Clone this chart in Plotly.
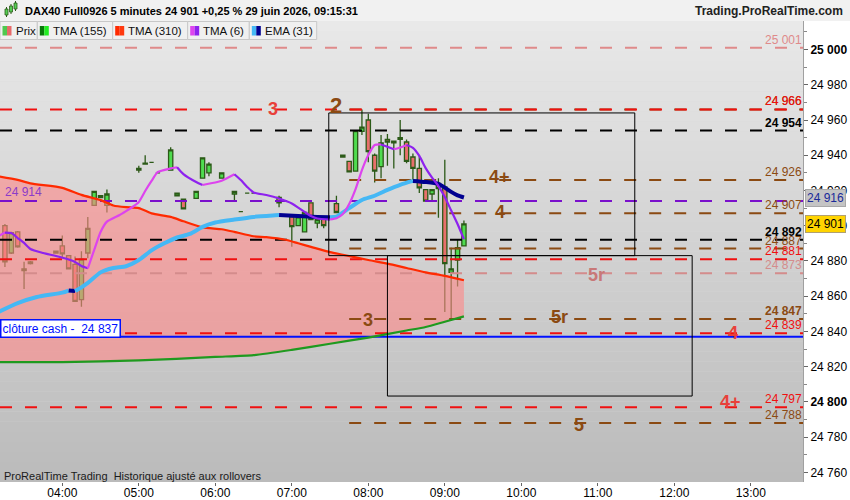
import plotly.graph_objects as go

D = "2026-06-29 "

# ---------------- data ----------------
candle_time = ["03:15","03:20","03:25","03:30","03:35","03:55","04:00","04:05","04:10","04:15","04:20","04:25","04:30","04:35",
               "05:00","05:05","05:10","05:15","05:25","05:30","05:35","05:45","05:50","05:55","06:05","06:15","06:20","06:25","06:30",
               "06:50","07:00","07:05","07:10","07:15","07:20","07:25","07:35","07:40","07:45","07:50","07:55","08:00","08:05","08:10",
               "08:15","08:20","08:25","08:30","08:35","08:40","08:45","08:50","08:55","09:00","09:05","09:10","09:15"]
candle_open = [24900,24884.5,24896.5,24875.5,24878.5,24884.5,24888.5,24883,24878,24858,24884.5,24911.5,24917,24911.5,
               24932.5,24935.5,24936,24930,24931.5,24917,24915,24915.5,24927,24930,24927,24918,24908,24918.5,24918.5,
               24916,24905,24900,24896.5,24913,24901.5,24904,24912.5,24940,24936.5,24931,24953.5,24960,24940,24933.5,
               24949,24947,24949,24947.5,24939,24932.5,24920.5,24918,24924,24922,24873.5,24880.5,24888.5]
candle_high = [24901,24896.5,24897,24879.5,24880,24885.5,24894.5,24883,24882.5,24885.5,24905,24919.5,24917,24920.5,
               24934,24940,24936,24930,24944.5,24918.5,24915,24919.5,24938.5,24936,24930,24919.5,24908,24918.5,24918.5,
               24917,24906,24905,24907.5,24913,24903.5,24904,24917,24940,24936.5,24954,24966,24963.5,24941,24951.5,
               24952,24948,24960,24949,24941,24940,24920.5,24920.5,24927,24937.5,24887.5,24892.5,24903]
candle_low = [24876.5,24884,24887.5,24864,24878,24884.5,24881.5,24875.5,24857,24854,24881.5,24911.5,24916,24907.5,
              24930,24935,24936,24930,24931.5,24917,24909.5,24915.5,24927,24928,24927,24914,24908,24918.5,24918.5,
              24910.5,24888,24900,24896.5,24903.5,24898.5,24898.5,24907.5,24939,24930.5,24931,24951.5,24936,24924.5,24927,
              24934,24932.5,24940,24935.5,24926,24918.5,24914,24914.5,24904.5,24851,24846.5,24865.5,24888.5]
candle_close = [24879.5,24896,24888,24874.5,24879.5,24885.5,24884,24875.5,24857,24881,24898.5,24919.5,24916,24918,
                24931.5,24935,24936,24930,24943,24918.5,24909.5,24919.5,24938.5,24935,24930,24919.5,24908,24918.5,24918.5,
                24913,24899.5,24905,24907.5,24903.5,24903.5,24900,24907.5,24939,24930.5,24954,24956,24942,24931,24947,
                24947.5,24948,24950,24936.5,24932.5,24921.5,24914,24920.5,24921,24878.5,24875.5,24887.5,24901]

tma310_time = ["03:10","03:25","03:35","04:00","04:15","04:30","04:40","04:50","05:00","05:10","05:25","05:35","05:50","06:05",
               "06:15","06:30","06:40","06:55","07:05","07:15","07:30","07:40","08:00","08:15","08:30","08:45","09:00","09:15"]
tma310_val = [24928,24926,24924,24921.5,24917.5,24914.5,24911.5,24910.5,24910,24907,24905,24902.5,24899,24898,
              24896.5,24894,24893.5,24892,24890,24888,24885,24883.5,24880.5,24878.5,24876,24873.5,24871.5,24869]

tma155_time = ["03:10","04:00","05:00","06:00","06:30","07:00","07:30","08:00","08:30","08:45","09:00","09:15"]
tma155_val = [24822.5,24822.6,24823.5,24825.5,24826.5,24829.5,24833,24836.5,24840.5,24842.5,24845.5,24848.5]

ema31_time = ["03:10","03:25","03:40","04:00","04:05","04:10","04:15","04:20","04:30","04:40","04:50","05:00","05:10","05:20",
              "05:30","05:40","05:50","06:00","06:15","06:30","06:45","06:50","07:05","07:20","07:30","07:35","07:45","07:55",
              "08:05","08:15","08:25","08:35","08:45","08:55","09:00","09:05","09:10","09:15"]
ema31_val = [24851,24856,24859.5,24862,24863.2,24862.9,24865,24867.5,24873.5,24876,24877,24880.5,24886,24890,
             24893.3,24895.3,24899.3,24901.8,24903.5,24905,24905.8,24906,24905.5,24905,24904.8,24905.2,24910,24914.6,
             24917,24920.3,24923.2,24925.4,24924.8,24923.7,24921.6,24919.2,24917.2,24916]

tma6_time = ["03:10","03:15","03:20","03:25","03:30","03:35","03:45","03:55","04:05","04:10","04:15","04:20","04:25","04:30",
             "04:35","04:45","04:50","04:55","05:00","05:05","05:10","05:15","05:25","05:30","05:35","05:45","05:50","06:00",
             "06:05","06:15","06:20","06:25","06:30","06:40","06:50","07:00","07:10","07:15","07:20","07:30","07:35","07:40",
             "07:45","07:50","07:55","08:00","08:05","08:10","08:15","08:20","08:25","08:30","08:35","08:40","08:45","08:50",
             "08:55","09:00","09:05","09:10","09:15"]
tma6_val = [24894.2,24896.1,24895.8,24893,24890.2,24886.8,24884.5,24882.8,24880.8,24879.4,24877.1,24875.8,24886.2,24896.4,
            24902.3,24906.1,24908.3,24910.6,24913.5,24919.7,24925.4,24930.5,24932.5,24933.2,24929.3,24924.8,24923.1,24924.5,
            24925.5,24929.2,24925.9,24922,24918.9,24917.4,24915.4,24912.6,24907.8,24905.5,24904.1,24903.5,24904.2,24906.6,
            24912.3,24920.8,24931.6,24940.1,24945.8,24946.1,24944.8,24943.4,24944.4,24945.8,24944.2,24939.6,24932.7,24927.3,
            24922.5,24916.3,24908.6,24901,24892.3]

level_val = [25001, 24966, 24966, 24954, 24926, 24914, 24907, 24892, 24887, 24881, 24873, 24847, 24839, 24797, 24788]
level_color = ["#df8a8a", "#8b4a12", "#f01010", "#000000", "#8b4a12", "#7a10cc", "#8b4a12", "#000000", "#8b4a12",
               "#f01010", "#d48c8c", "#8b4a12", "#f01010", "#f01010", "#8b4a12"]
level_start = [None, "07:45", None, None, "07:45", None, "07:45", None, "07:45", None, None, "07:45", None, None, "07:45"]
level_text = ["25 001", "24 966", "24 966", "24 954", "24 926", None, "24 907", "24 892", "24 887", "24 881", "24 873",
              "24 847", "24 839", "24 797", "24 788"]
level_bold = [False, False, False, True, False, False, False, True, False, False, False, True, False, False, False]

cash_close = 24837
purple_left = 24914

zone_text = ["3", "2", "4+", "4", "5r", "3", "5r", "4", "4+", "5"]
zone_time = ["06:45", "07:35", "09:43", "09:43", "10:59", "08:00", "10:30", "12:46", "12:44", "10:45"]
zone_val = [24966, 24968, 24927.5, 24907.5, 24872, 24846.5, 24848, 24839, 24800, 24787]
zone_color = ["#e8403a", "#8b4a12", "#8b4a12", "#8b4a12", "#c87878", "#8b4a12", "#8b4a12", "#e8403a", "#e8403a", "#8b4a12"]

box_t0 = ["07:29", "08:15"]
box_t1 = ["11:29", "12:14"]
box_lo = [24883, 24803.3]
box_hi = [24964, 24883]

last_price = 24901
ema_last = 24916

y_ticks = list(range(24760, 25001, 20))
x_hours = ["04:00", "05:00", "06:00", "07:00", "08:00", "09:00", "10:00", "11:00", "12:00", "13:00"]

# ---------------- layout geometry ----------------
W, H = 850, 500
ML, MR, MT, MB = 0, 47, 21, 18
PW, PH = W - ML - MR, H - MT - MB
X_START, X_END = D + "03:11:08", D + "13:40:56"
Y_MIN, Y_MAX = 24754.5, 25016.2
FONT = "Arial, Liberation Sans, sans-serif"

def px(xp):
    return (xp - ML) / PW

def py(yp):
    return (H - MB - yp) / PH

def T(lst):
    return [D + t for t in lst]

fig = go.Figure()

# background gradient
shapes = []
N = 46
for i in range(N):
    c = int(233 - (233 - 187) * i / (N - 1))
    shapes.append(dict(type="rect", xref="paper", yref="paper", x0=0, x1=1,
                       y0=1 - (i + 1) / N, y1=1 - i / N, fillcolor=f"rgb({c},{c},{c})",
                       line=dict(width=0), layer="below"))

# title bar
shapes.append(dict(type="rect", xref="paper", yref="paper", x0=0, x1=W / PW, y0=py(21), y1=py(0),
                   fillcolor="#f1f1f1", line=dict(width=0), layer="below"))

# cloud fill between TMA310 and TMA155
fx = T(tma310_time) + T(tma155_time)[::-1]
fy = tma310_val + tma155_val[::-1]
fig.add_trace(go.Scatter(x=fx, y=fy, fill="toself", fillcolor="rgba(255,135,135,0.6)",
                         line=dict(width=0), mode="lines", hoverinfo="skip", showlegend=False))

# candles
fig.add_trace(go.Candlestick(x=T(candle_time), open=candle_open, high=candle_high, low=candle_low, close=candle_close,
                             increasing=dict(line=dict(color="#2c5a18", width=1.3), fillcolor="#4fdc4f"),
                             decreasing=dict(line=dict(color="#2c5a18", width=1.3), fillcolor="#e8706c"),
                             whiskerwidth=0, showlegend=False))

# level lines
for v, col, st in zip(level_val, level_color, level_start):
    x0 = X_START if st is None else D + st
    fig.add_trace(go.Scatter(x=[x0, X_END], y=[v, v], mode="lines",
                             line=dict(color=col, width=2, dash="12px,13px"),
                             hoverinfo="skip", showlegend=False))

# cash close line
fig.add_trace(go.Scatter(x=[X_START, X_END], y=[cash_close, cash_close], mode="lines",
                         line=dict(color="#0010ff", width=2), hoverinfo="skip", showlegend=False))


def add_dir_line(times, vals, up_col, down_col, width):
    tt = T(times)
    runs = []
    cur = [0]
    cur_dir = None
    for i in range(1, len(vals)):
        d = vals[i] >= vals[i - 1]
        if cur_dir is None or d == cur_dir:
            cur.append(i)
            cur_dir = d
        else:
            runs.append((cur_dir, cur))
            cur = [i - 1, i]
            cur_dir = d
    runs.append((cur_dir, cur))
    for d, idx in runs:
        fig.add_trace(go.Scatter(x=[tt[i] for i in idx], y=[vals[i] for i in idx], mode="lines",
                                 line=dict(color=up_col if d else down_col, width=width, shape="spline", smoothing=0.6),
                                 hoverinfo="skip", showlegend=False))


add_dir_line(tma155_time, tma155_val, "#1f9a1f", "#0d6e0d", 2.2)
add_dir_line(tma310_time, tma310_val, "#ff4a10", "#ff2a00", 2.2)
add_dir_line(ema31_time, ema31_val, "#45b8f5", "#000090", 4)
add_dir_line(tma6_time, tma6_val, "#dd44ee", "#8e22ee", 2.2)

# boxes
for t0, t1, lo, hi in zip(box_t0, box_t1, box_lo, box_hi):
    shapes.append(dict(type="rect", xref="x", yref="y", x0=D + t0, x1=D + t1, y0=lo, y1=hi,
                       line=dict(color="#000000", width=1), fillcolor="rgba(0,0,0,0)", layer="above"))

annotations = []

# right-side level labels
for v, txt, col, b in zip(level_val, level_text, level_color, level_bold):
    if txt is None:
        continue
    annotations.append(dict(xref="paper", yref="y", x=783 / PW, y=v, yshift=8, showarrow=False,
                            text=f"<b>{txt}</b>" if b else txt, xanchor="center", yanchor="middle",
                            font=dict(family=FONT, size=12, color=col)))

# zone labels
for txt, t, v, col in zip(zone_text, zone_time, zone_val, zone_color):
    size = 22 if txt == "2" else 18
    annotations.append(dict(xref="x", yref="y", x=D + t, y=v, showarrow=False, text=f"<b>{txt}</b>",
                            xanchor="center", yanchor="middle", font=dict(family=FONT, size=size, color=col)))

# purple left label
annotations.append(dict(xref="paper", yref="y", x=px(3), y=purple_left, yshift=9, showarrow=False,
                        text="24 914", xanchor="left", yanchor="middle",
                        font=dict(family=FONT, size=12, color="#8c3cc8")))

# cash close label box
annotations.append(dict(xref="paper", yref="y", x=0, y=cash_close, yshift=8, showarrow=False,
                        text="clôture cash -  24 837", xanchor="left", yanchor="middle",
                        bgcolor="#ffffff", bordercolor="#0010ff", borderwidth=1.5, borderpad=1,
                        font=dict(family=FONT, size=12, color="#0010ff")))

# right badges
annotations.append(dict(xref="paper", yref="y", x=1, y=ema_last, xshift=2, showarrow=False,
                        text="24 916", xanchor="left", yanchor="middle",
                        bgcolor="#c4c4c4", bordercolor="#a8a8a8", borderwidth=1, borderpad=1,
                        font=dict(family=FONT, size=12, color="#1a2a9a")))
annotations.append(dict(xref="paper", yref="y", x=1, y=last_price, xshift=2, showarrow=False,
                        text="24 901", xanchor="left", yanchor="middle",
                        bgcolor="#ffd400", bordercolor="#b0a070", borderwidth=1, borderpad=1,
                        font=dict(family=FONT, size=12, color="#000000")))

# header
annotations.append(dict(xref="paper", yref="paper", x=px(23), y=py(11), showarrow=False,
                        text="<b>DAX40 Full0926 5 minutes 24 901 +0,25 % 29 juin 2026, 09:15:31</b>",
                        xanchor="left", yanchor="middle", font=dict(family=FONT, size=11, color="#000000")))
annotations.append(dict(xref="paper", yref="paper", x=px(845), y=py(11), showarrow=False,
                        text="<b>Trading.ProRealTime.com</b>", xanchor="right", yanchor="middle",
                        font=dict(family=FONT, size=12, color="#222222")))
# header icon (small candles)
for x0, y0, y1, col in [(5, 9, 15, "#55cc55"), (9.5, 6, 12, "#55cc55"), (14, 3, 9, "#55cc55")]:
    shapes.append(dict(type="line", xref="paper", yref="paper", x0=px(x0 + 1.5), x1=px(x0 + 1.5),
                       y0=py(y0 - 2), y1=py(y1 + 2), line=dict(color="#2c5a18", width=1), layer="above"))
    shapes.append(dict(type="rect", xref="paper", yref="paper", x0=px(x0), x1=px(x0 + 3),
                       y0=py(y1), y1=py(y0), fillcolor=col, line=dict(color="#2c5a18", width=0.8), layer="above"))

# legend row
legend_items = [
    ("Prix", 0, 37.3, "#4fc84f", "#e86a6a"),
    ("TMA (155)", 37.3, 112.7, "#0a7a0a", "#22ee22"),
    ("TMA (310)", 112.7, 187.7, "#ff2a00", "#ff3a10"),
    ("TMA (6)", 187.7, 249.3, "#dd44ee", "#8e22ee"),
    ("EMA (31)", 249.3, 316.7, "#45b8f5", "#000090"),
]
for name, a, b, c1, c2 in legend_items:
    shapes.append(dict(type="rect", xref="paper", yref="paper", x0=px(a), x1=px(b), y0=py(39.5), y1=py(21.5),
                       fillcolor="#f0f0f0", line=dict(color="#c8c8c8", width=1), layer="above"))
    shapes.append(dict(type="rect", xref="paper", yref="paper", x0=px(a + 2.5), x1=px(a + 7), y0=py(35.5), y1=py(26),
                       fillcolor=c1, line=dict(width=0), layer="above"))
    shapes.append(dict(type="rect", xref="paper", yref="paper", x0=px(a + 7), x1=px(a + 11.5), y0=py(35.5), y1=py(26),
                       fillcolor=c2, line=dict(width=0), layer="above"))
    annotations.append(dict(xref="paper", yref="paper", x=px(a + 13.5), y=py(30.8), showarrow=False, text=name,
                            xanchor="left", yanchor="middle", font=dict(family=FONT, size=11.5, color="#111111")))

# bottom text
annotations.append(dict(xref="paper", yref="paper", x=px(2), y=py(476), showarrow=False,
                        text="ProRealTime Trading  Historique ajusté aux rollovers", xanchor="left", yanchor="middle",
                        font=dict(family=FONT, size=11, color="#1a1a1a")))

y_text = []
for v in y_ticks:
    s = f"{v // 1000} {v % 1000:03d}"
    y_text.append(f"<b>{s}</b>" if v % 200 == 0 else s)

fig.update_layout(
    width=W, height=H,
    margin=dict(l=ML, r=MR, t=MT, b=MB, pad=0, autoexpand=False),
    paper_bgcolor="#ffffff", plot_bgcolor="#d8d8d8",
    font=dict(family=FONT, size=12, color="#000000"),
    showlegend=False,
    boxgap=0.05,
    shapes=shapes,
    annotations=annotations,
    xaxis=dict(type="date", range=[X_START, X_END], rangeslider=dict(visible=False), automargin=False,
               tickmode="array", tickvals=T(x_hours), ticktext=x_hours,
               ticks="outside", ticklen=3, tickcolor="#666666", showgrid=False, zeroline=False,
               ticklabelstandoff=-3,
               showline=False, tickfont=dict(family=FONT, size=12, color="#000000")),
    yaxis=dict(side="right", range=[Y_MIN, Y_MAX], tickmode="array", tickvals=y_ticks, ticktext=y_text,
               automargin=False,
               ticks="outside", ticklen=4, tickcolor="#666666", showgrid=False, zeroline=False,
               showline=True, linecolor="#a0a0a0", linewidth=1,
               minor=dict(dtick=10, ticks="outside", ticklen=3, tickcolor="#888888", showgrid=False),
               tickfont=dict(family=FONT, size=12, color="#000000")),
)

fig.write_html("out.html", config={"displayModeBar": False},
               post_script="document.body.style.margin='0px';")
